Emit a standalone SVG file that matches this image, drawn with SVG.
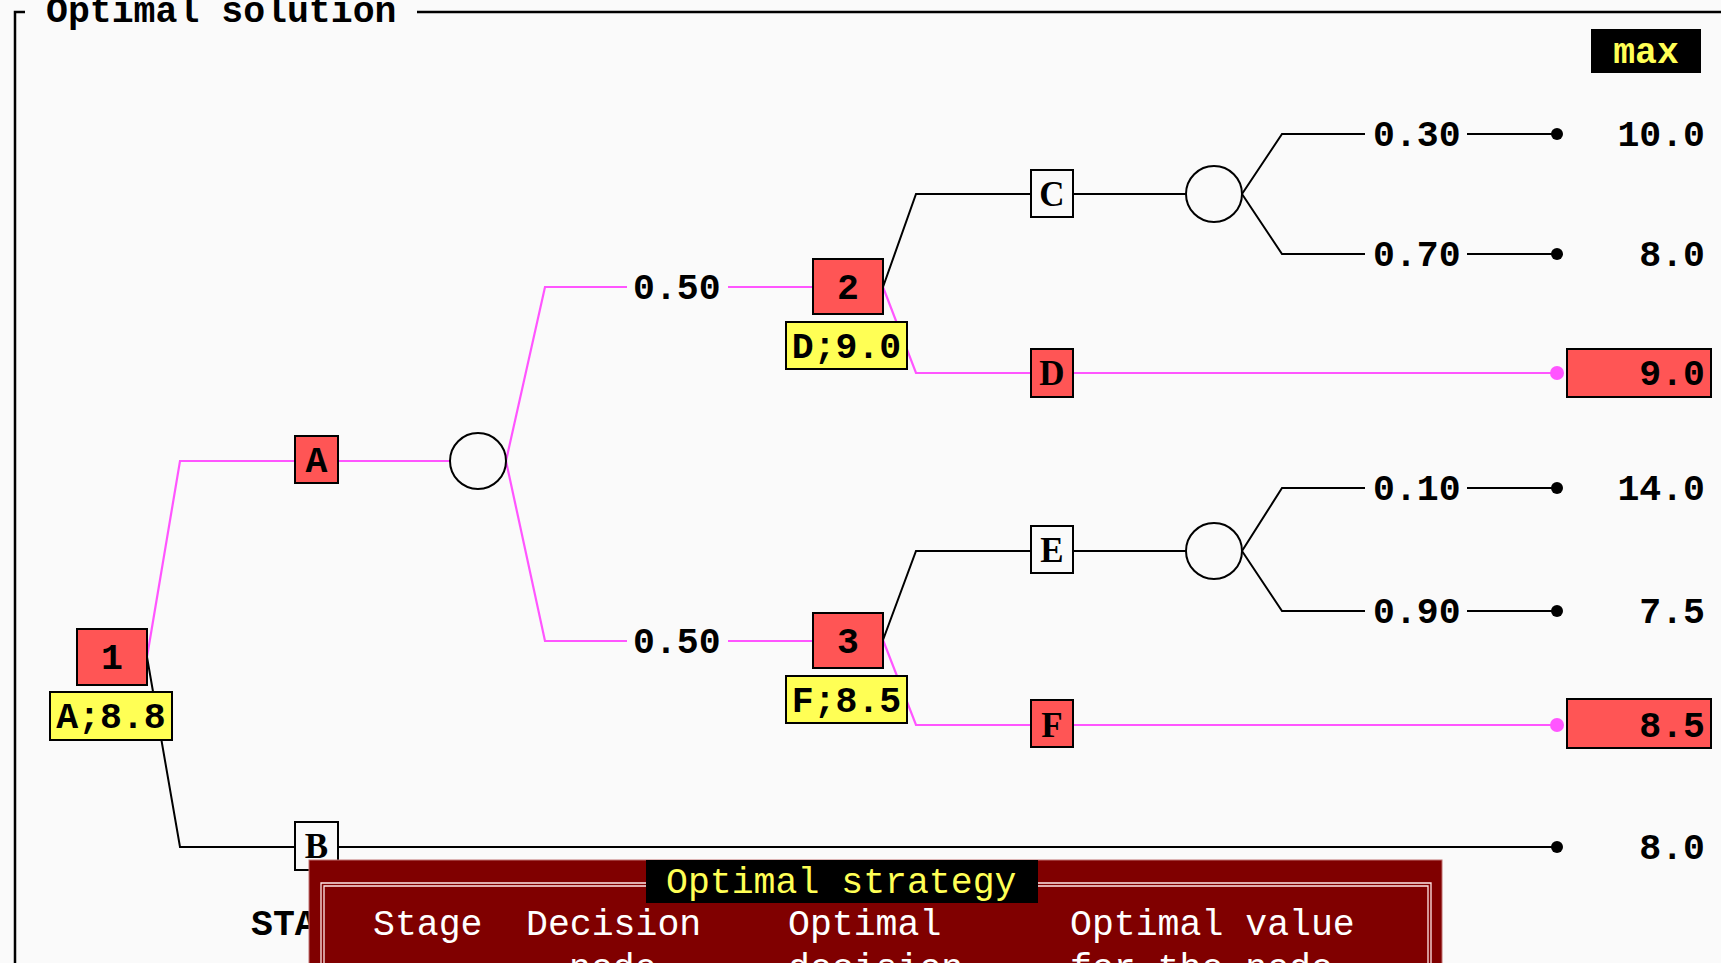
<svg xmlns="http://www.w3.org/2000/svg" width="1721" height="963" viewBox="0 0 1721 963">
<style>
.bg{fill:#fafafa}
.t{font-family:"Liberation Mono","DejaVu Sans Mono",monospace;font-size:36.5px;font-weight:bold;fill:#000}
.tn{font-family:"Liberation Mono","DejaVu Sans Mono",monospace;font-size:36.5px;font-weight:normal}
.ts{font-family:"Liberation Serif","DejaVu Serif",serif;font-size:35px;font-weight:bold;fill:#000}
.red{fill:#ff5555;stroke:#000;stroke-width:2}
.wht{fill:#fafafa;stroke:#000;stroke-width:2}
.yel{fill:#ffff55;stroke:#000;stroke-width:2}
.circ{fill:#fafafa;stroke:#000;stroke-width:2}
.lb{fill:none;stroke:#000;stroke-width:2}
.lm{fill:none;stroke:#ff55ff;stroke-width:2.2}
.db{fill:#000}
.dm{fill:#ff55ff}
.frame{fill:none;stroke:#000;stroke-width:2.5}
</style>
<rect class="bg" x="0" y="0" width="1721" height="963"/>

<g id="frame">
<path class="frame" d="M25,12 H15 V963"/>
<path class="frame" d="M417,12 H1721"/>
<text class="t" x="46" y="22">Optimal solution</text>
<rect x="1591" y="29" width="110" height="44" fill="#000"/>
<text class="t" x="1646" y="63" text-anchor="middle" fill="#ffff55" style="fill:#ffff55">max</text>
</g>

<g id="connectors">
<!-- optimal (magenta) -->
<polyline class="lm" points="147,657 180,461 295,461"/>
<line class="lm" x1="338" y1="461" x2="450" y2="461"/>
<polyline class="lm" points="506,461 545,287 627,287"/>
<line class="lm" x1="728" y1="287" x2="813" y2="287"/>
<polyline class="lm" points="506,461 545,641 627,641"/>
<line class="lm" x1="728" y1="641" x2="813" y2="641"/>
<polyline class="lm" points="883,287 916,373 1031,373"/>
<line class="lm" x1="1073" y1="373" x2="1557" y2="373"/>
<polyline class="lm" points="883,640 916,725 1031,725"/>
<line class="lm" x1="1073" y1="725" x2="1557" y2="725"/>
<circle class="dm" cx="1557" cy="373" r="7"/>
<circle class="dm" cx="1557" cy="725" r="7"/>
<!-- non-optimal (black) -->
<polyline class="lb" points="147,657 180,847 295,847"/>
<line class="lb" x1="338" y1="847" x2="1557" y2="847"/>
<polyline class="lb" points="883,287 916,194 1031,194"/>
<line class="lb" x1="1073" y1="194" x2="1186" y2="194"/>
<polyline class="lb" points="1242,194 1282,134 1365,134"/>
<line class="lb" x1="1467" y1="134" x2="1557" y2="134"/>
<polyline class="lb" points="1242,194 1282,254 1365,254"/>
<line class="lb" x1="1467" y1="254" x2="1557" y2="254"/>
<polyline class="lb" points="883,640 916,551 1031,551"/>
<line class="lb" x1="1073" y1="551" x2="1186" y2="551"/>
<polyline class="lb" points="1242,551 1282,488 1365,488"/>
<line class="lb" x1="1467" y1="488" x2="1557" y2="488"/>
<polyline class="lb" points="1242,551 1282,611 1365,611"/>
<line class="lb" x1="1467" y1="611" x2="1557" y2="611"/>
<circle class="db" cx="1557" cy="134" r="6"/>
<circle class="db" cx="1557" cy="254" r="6"/>
<circle class="db" cx="1557" cy="488" r="6"/>
<circle class="db" cx="1557" cy="611" r="6"/>
<circle class="db" cx="1557" cy="847" r="6"/>
<!-- probabilities -->
<text class="t" x="633" y="299">0.50</text>
<text class="t" x="633" y="653">0.50</text>
<text class="t" x="1373" y="146">0.30</text>
<text class="t" x="1373" y="266">0.70</text>
<text class="t" x="1373" y="500">0.10</text>
<text class="t" x="1373" y="623">0.90</text>
</g>

<g id="node-1">
<rect class="red" x="77" y="629" width="70" height="56"/>
<text class="t" x="112" y="669" text-anchor="middle">1</text>
<rect class="yel" x="50" y="692" width="122" height="48"/>
<text class="t" x="111" y="728" text-anchor="middle">A;8.8</text>
</g>
<g id="node-A">
<rect class="red" x="295" y="436" width="43" height="47"/>
<text class="t" x="316.5" y="472" text-anchor="middle">A</text>
</g>
<g id="chance-A">
<circle class="circ" cx="478" cy="461" r="28"/>
</g>
<g id="node-2">
<rect class="red" x="813" y="259" width="70" height="55"/>
<text class="t" x="848" y="299" text-anchor="middle">2</text>
<rect class="yel" x="786" y="322" width="121" height="47"/>
<text class="t" x="846.5" y="358" text-anchor="middle">D;9.0</text>
</g>
<g id="node-3">
<rect class="red" x="813" y="613" width="70" height="55"/>
<text class="t" x="848" y="653" text-anchor="middle">3</text>
<rect class="yel" x="786" y="676" width="121" height="47"/>
<text class="t" x="846.5" y="712" text-anchor="middle">F;8.5</text>
</g>
<g id="node-C">
<rect class="wht" x="1031" y="170" width="42" height="47"/>
<text class="ts" x="1052" y="206" text-anchor="middle">C</text>
</g>
<g id="chance-C">
<circle class="circ" cx="1214" cy="194" r="28"/>
</g>
<g id="node-D">
<rect class="red" x="1031" y="349" width="42" height="48"/>
<text class="ts" x="1052" y="385" text-anchor="middle">D</text>
</g>
<g id="node-E">
<rect class="wht" x="1031" y="526" width="42" height="47"/>
<text class="ts" x="1052" y="562" text-anchor="middle">E</text>
</g>
<g id="chance-E">
<circle class="circ" cx="1214" cy="551" r="28"/>
</g>
<g id="node-F">
<rect class="red" x="1031" y="700" width="42" height="47"/>
<text class="ts" x="1052" y="737" text-anchor="middle">F</text>
</g>

<g id="payoffs">
<text class="t" x="1705" y="146" text-anchor="end">10.0</text>
<text class="t" x="1705" y="266" text-anchor="end">8.0</text>
<rect class="red" x="1567" y="349" width="144" height="48"/>
<text class="t" x="1705" y="385" text-anchor="end">9.0</text>
<text class="t" x="1705" y="500" text-anchor="end">14.0</text>
<text class="t" x="1705" y="623" text-anchor="end">7.5</text>
<rect class="red" x="1567" y="699" width="144" height="49"/>
<text class="t" x="1705" y="737" text-anchor="end">8.5</text>
<text class="t" x="1705" y="859" text-anchor="end">8.0</text>
</g>

<g id="node-B">
<rect class="wht" x="295" y="822" width="43" height="48"/>
<text class="ts" x="316.5" y="858" text-anchor="middle">B</text>
<text class="t" x="251" y="935">STA</text>
</g>

<g id="panel">
<rect x="309" y="860" width="1133" height="110" fill="#800000" stroke="#c07070" stroke-width="1"/>
<path d="M321,970 V883 H1431 V970" fill="none" stroke="#ffe8e8" stroke-width="1.3"/>
<path d="M324,970 V886 H1428 V970" fill="none" stroke="#ffe8e8" stroke-width="1.3"/>
<rect x="646" y="860" width="392" height="43" fill="#000"/>
<text class="tn" x="666" y="893" fill="#ffff55">Optimal strategy</text>
<text class="tn" x="373" y="935" fill="#ffffff">Stage</text>
<text class="tn" x="526" y="935" fill="#ffffff">Decision</text>
<text class="tn" x="788" y="935" fill="#ffffff">Optimal</text>
<text class="tn" x="1070" y="935" fill="#ffffff">Optimal value</text>
<text class="tn" x="569" y="979" fill="#ffffff">node</text>
<text class="tn" x="788" y="979" fill="#ffffff">decision</text>
<text class="tn" x="1070" y="979" fill="#ffffff">for the node</text>
</g>
</svg>
